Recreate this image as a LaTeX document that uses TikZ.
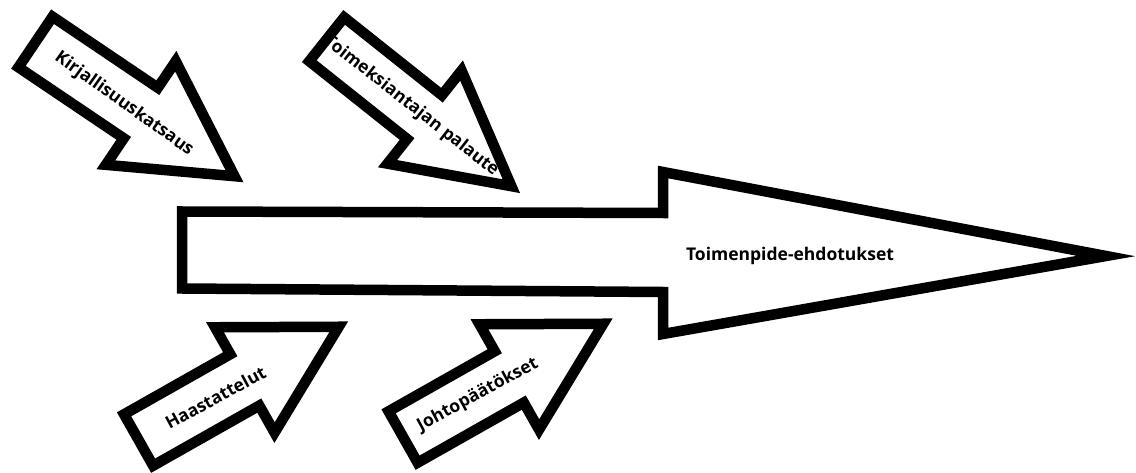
\documentclass[tikz,border=0pt]{standalone}
\usepackage{fontspec}
\setmainfont{Open Sans}
\begin{document}
\tikzset{
  blk/.style={draw=black, fill=white, line width=10.5pt, line join=miter, miter limit=10},
  lbl/.style={font=\bfseries\fontsize{17.5}{20}\selectfont, inner sep=0pt},
}
\begin{tikzpicture}[x=1pt,y=-1pt]
\useasboundingbox (0,0) rectangle (1136,473);
\fill[white] (0,0) rectangle (1136,473);
% main arrow
\draw[blk] (182,211.5) -- (663,213) -- (663,172) -- (1106,256) -- (663,334) -- (663,292) -- (182,288.5) -- cycle;
\node[lbl, anchor=base] (main) at (790,261) {Toimenpide-ehdotukset};
% Kirjallisuuskatsaus
\begin{scope}[shift={(35.5,42)}, rotate=-34]
  \draw[blk] (0,-30.5) -- (127,-30.5) -- (127,-62.5) -- (240,0) -- (127,62.5) -- (127,30.5) -- (0,30.5) -- cycle;
\end{scope}
\node[lbl, rotate=-35.5] (kir) at (124,104) {Kirjallisuuskatsaus};
% Toimeksiantajan palaute
\begin{scope}[shift={(326.7,39.3)}, rotate=-38.5]
  \draw[blk] (0,-28) -- (125,-28) -- (125,-59.5) -- (236,0) -- (125,59.5) -- (125,28) -- (0,28) -- cycle;
\end{scope}
\node[lbl, rotate=-38] (toi) at (411,106) {Toimeksiantajan palaute};
% Haastattelut
\begin{scope}[shift={(138.6,440)}, rotate=29.5]
  \draw[blk] (0,-29.5) -- (122,-29.5) -- (122,-60.5) -- (230,0) -- (122,60.5) -- (122,29.5) -- (0,29.5) -- cycle;
\end{scope}
\node[lbl, rotate=28.5] (haa) at (215.5,397.5) {Haastattelut};
% Johtopaatokset
\begin{scope}[shift={(403.1,437)}, rotate=29.5]
  \draw[blk] (0,-29.5) -- (122,-29.5) -- (122,-60.5) -- (230,0) -- (122,60.5) -- (122,29.5) -- (0,29.5) -- cycle;
\end{scope}
\node[lbl, rotate=28.5] (joh) at (478,395) {Johtopäätökset};
\end{tikzpicture}
\end{document}
